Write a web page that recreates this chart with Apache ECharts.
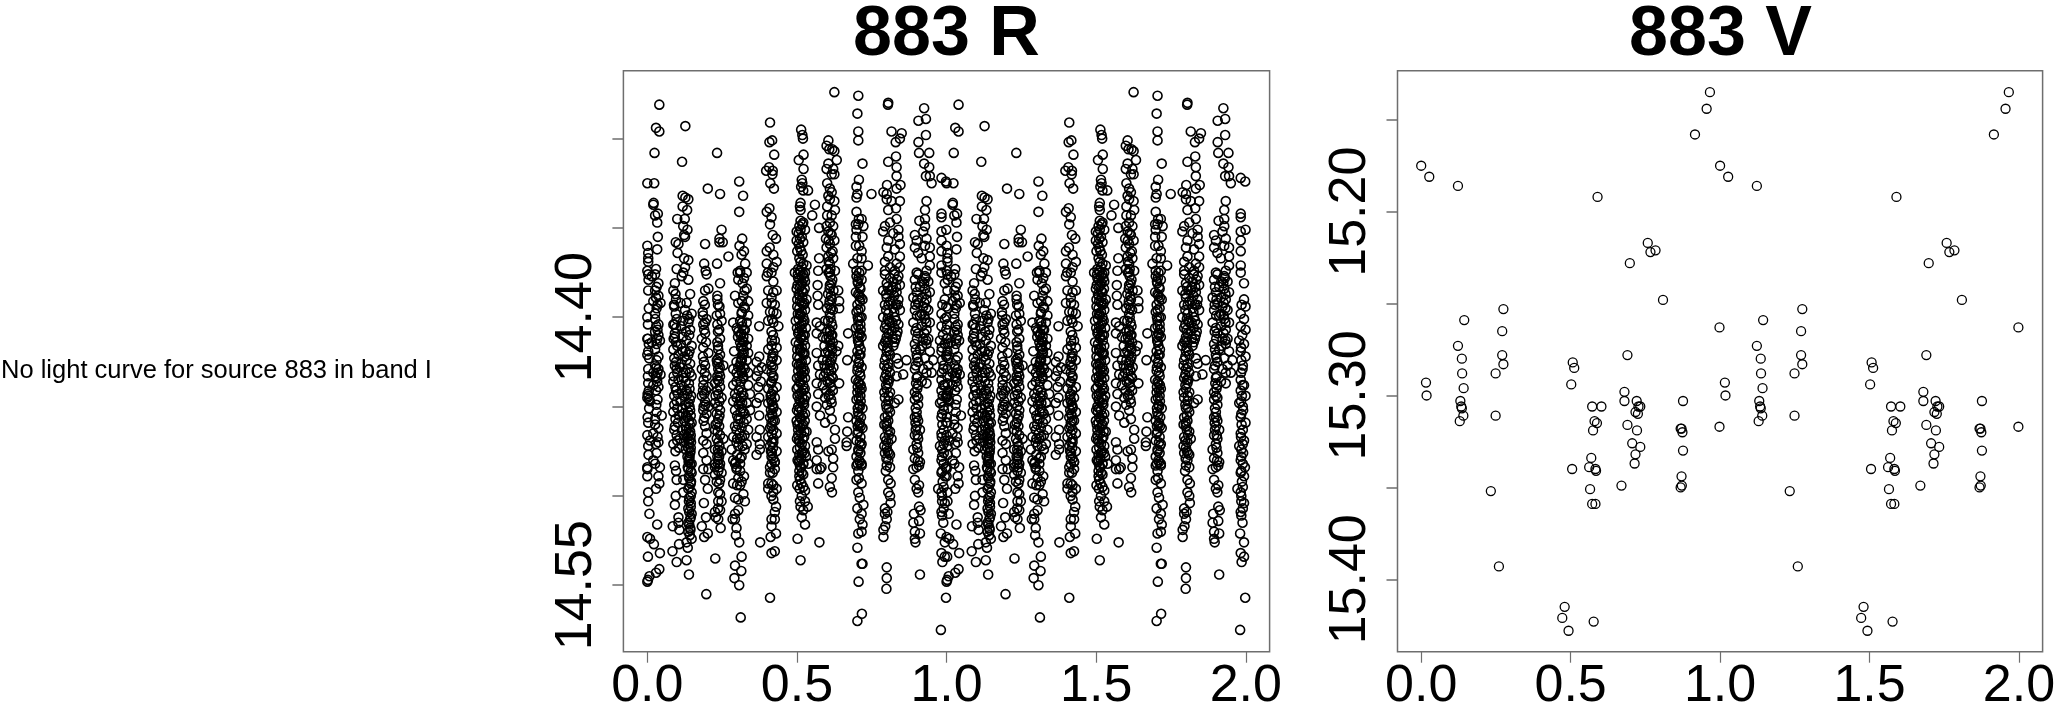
<!DOCTYPE html>
<html><head><meta charset="utf-8">
<style>html,body{margin:0;padding:0;background:#fff}#c{width:2057px;height:705px}</style>
<script src="https://cdn.jsdelivr.net/npm/echarts@6/dist/echarts.min.js"></script>
</head><body><div id="c"></div>
<script>
// Band R: phase, magnitude pairs, grouped by visit clump
const rClump0=[.040,14.281,.029,14.294,.040,14.296,.024,14.308,.000,14.325,.023,14.325,.021,14.336,.020,14.337,.035,14.342,.026,14.343,.033,14.347,.035,14.355,.033,14.362,.000,14.360,.003,14.364,.003,14.367,.003,14.369,.029,14.373,.000,14.374,.003,14.376,.026,14.376,.015,14.377,.037,14.381,.003,14.385,.026,14.385,.037,14.388,.020,14.391,.044,14.392,.031,14.395,.026,14.398,.000,14.400,.026,14.401,.037,14.404,.026,14.408,.037,14.410,.000,14.412,.015,14.414,.042,14.413,.031,14.415,.003,14.419,.000,14.421,.026,14.418,.037,14.422,.026,14.427,.037,14.429,.003,14.429,.020,14.431,.044,14.432,.003,14.437,.031,14.434,.020,14.438,.037,14.439,.003,14.444,.000,14.445,.009,14.447,.029,14.441,.031,14.453,.048,14.455,.026,14.457,.003,14.459,.026,14.460,.037,14.462,.000,14.466,.020,14.465,.009,14.469,.037,14.470,.003,14.472,.031,14.476,.020,14.480,.000,14.484,.000,14.485,.000,14.489,.026,14.482,.042,14.484,.037,14.489,.040,14.493,.029,14.496,.003,14.498,.003,14.503,.007,14.510,.033,14.516,.000,14.523,.009,14.524,.022,14.527,.042,14.532,.002,14.534,.040,14.541,.029,14.543,.007,14.545,.000,14.548,.002,14.547,.030,14.428,.034,14.431,.028,14.433,.033,14.436,.005,14.441,.001,14.443,.006,14.446,.002,14.412,.005,14.415,.030,14.405,.034,14.407,.004,14.379,.031,14.383,.029,14.389,.034,14.393,.005,14.395,.002,14.404,.033,14.412,.006,14.423,.031,14.424,.002,14.433,.034,14.446,.030,14.449,.006,14.451,.001,14.456,.034,14.467,.028,14.471,.004,14.477];
const rClump1=[.127,14.293,.116,14.313,.118,14.332,.127,14.333,.137,14.334,.118,14.338,.133,14.340,.100,14.345,.125,14.345,.120,14.349,.134,14.351,.123,14.354,.126,14.355,.095,14.358,.104,14.359,.101,14.364,.123,14.367,.137,14.368,.098,14.373,.126,14.372,.120,14.375,.092,14.381,.087,14.385,.096,14.390,.090,14.394,.098,14.401,.087,14.404,.092,14.411,.096,14.414,.087,14.418,.092,14.427,.098,14.429,.087,14.436,.094,14.439,.090,14.444,.098,14.447,.087,14.453,.092,14.461,.098,14.466,.087,14.471,.094,14.475,.137,14.379,.143,14.387,.131,14.392,.148,14.398,.137,14.403,.143,14.407,.131,14.413,.148,14.416,.137,14.421,.143,14.426,.135,14.429,.148,14.433,.139,14.437,.131,14.441,.146,14.444,.137,14.448,.143,14.452,.133,14.456,.148,14.459,.139,14.462,.143,14.464,.133,14.467,.146,14.470,.137,14.473,.143,14.476,.139,14.480,.148,14.482,.135,14.484,.115,14.377,.111,14.392,.120,14.402,.113,14.405,.118,14.411,.109,14.428,.120,14.431,.115,14.438,.111,14.447,.120,14.454,.116,14.463,.109,14.468,.122,14.470,.141,14.450,.145,14.455,.140,14.458,.145,14.466,.140,14.469,.145,14.473,.141,14.478,.143,14.482,.137,14.485,.148,14.487,.140,14.490,.145,14.493,.137,14.496,.148,14.498,.140,14.501,.145,14.504,.137,14.507,.148,14.510,.143,14.513,.137,14.515,.143,14.518,.137,14.520,.148,14.524,.092,14.483,.096,14.486,.098,14.491,.095,14.500,.092,14.505,.085,14.517,.104,14.512,.104,14.515,.107,14.519,.106,14.527,.084,14.531,.098,14.537,.135,14.529,.131,14.526,.131,14.536,.139,14.544,.120,14.498,.120,14.491];
const rDense1=[.092,14.409,.096,14.406,.088,14.412,.100,14.416,.104,14.421,.090,14.423,.096,14.425,.100,14.431,.088,14.433,.104,14.435,.096,14.441,.102,14.443,.090,14.449,.100,14.451,.106,14.455,.094,14.457,.102,14.459,.090,14.463,.100,14.469,.106,14.473,.112,14.415,.118,14.419,.124,14.422,.112,14.426,.122,14.434,.128,14.436,.116,14.441,.124,14.444,.128,14.449,.118,14.451,.124,14.458,.128,14.461,.122,14.466,.128,14.474,.134,14.478,.138,14.481,.142,14.460,.138,14.465,.144,14.468,.138,14.471,.144,14.475,.140,14.479,.145,14.486,.139,14.489,.146,14.492,.141,14.495,.145,14.500,.139,14.503,.145,14.506,.140,14.509,.145,14.512,.140,14.516,.144,14.519,.142,14.522,.094,14.387,.089,14.393,.095,14.398,.091,14.404,.126,14.396,.133,14.399,.140,14.401,.129,14.408,.140,14.410,.128,14.419,.141,14.419,.131,14.424,.142,14.431,.129,14.431,.141,14.440,.134,14.443,.142,14.446,.129,14.455,.136,14.453,.130,14.463];
const rClump2=[.233,14.308,.202,14.328,.243,14.331,.248,14.351,.241,14.356,.241,14.358,.252,14.358,.193,14.359,.271,14.366,.233,14.370,.190,14.370,.195,14.374,.198,14.376,.193,14.385,.204,14.384,.243,14.381,.234,14.388,.234,14.390,.187,14.391,.185,14.397,.243,14.398,.232,14.399,.198,14.401,.187,14.404,.234,14.404,.248,14.402,.193,14.409,.243,14.412,.182,14.412,.234,14.414,.187,14.417,.204,14.420,.237,14.418,.243,14.421,.232,14.424,.193,14.427,.254,14.427,.182,14.429,.237,14.429,.198,14.433,.243,14.433,.226,14.437,.187,14.438,.204,14.439,.243,14.439,.182,14.444,.237,14.443,.193,14.447,.248,14.445,.204,14.450,.226,14.448,.187,14.452,.243,14.452,.198,14.454,.237,14.457,.193,14.461,.198,14.465,.226,14.463,.243,14.466,.187,14.469,.198,14.471,.254,14.468,.237,14.470,.226,14.474,.187,14.476,.248,14.475,.198,14.480,.237,14.480,.226,14.484,.237,14.423,.234,14.426,.240,14.431,.235,14.435,.238,14.476,.234,14.478,.187,14.485,.204,14.485,.193,14.491,.202,14.496,.189,14.504,.196,14.512,.182,14.517,.202,14.521,.190,14.523,.227,14.535,.197,14.555,.226,14.482,.243,14.482,.237,14.486,.226,14.488,.248,14.487,.232,14.492,.243,14.491,.237,14.498,.243,14.499,.237,14.503,.248,14.503,.226,14.509,.243,14.508,.237,14.513,.245,14.518,.229,14.512,.190,14.407,.196,14.414,.186,14.422,.192,14.431,.188,14.435,.196,14.441,.190,14.443,.194,14.449,.188,14.450,.238,14.425,.242,14.428,.234,14.433,.240,14.436,.234,14.441,.241,14.447,.236,14.450,.241,14.455,.234,14.459,.240,14.461,.235,14.464,.241,14.472,.236,14.474,.240,14.478,.236,14.482,.241,14.484,.192,14.393,.186,14.399,.193,14.403,.189,14.425,.186,14.441,.191,14.456,.188,14.458,.236,14.393,.241,14.394,.236,14.408,.240,14.407,.236,14.416,.228,14.444,.232,14.454,.228,14.460,.232,14.468,.240,14.493,.236,14.507];
const rClump3=[.307,14.324,.320,14.332,.307,14.341,.317,14.356,.308,14.360,.323,14.363,.315,14.365,.327,14.370,.310,14.374,.302,14.375,.310,14.375,.332,14.375,.304,14.379,.332,14.384,.293,14.388,.321,14.388,.337,14.391,.304,14.392,.326,14.395,.315,14.398,.337,14.399,.287,14.403,.310,14.402,.332,14.403,.304,14.408,.326,14.407,.321,14.411,.337,14.412,.310,14.414,.290,14.419,.332,14.416,.321,14.418,.337,14.420,.315,14.423,.332,14.424,.310,14.427,.287,14.429,.326,14.429,.304,14.433,.321,14.434,.337,14.431,.287,14.438,.310,14.439,.337,14.438,.293,14.443,.321,14.444,.343,14.443,.287,14.447,.310,14.447,.332,14.448,.293,14.452,.321,14.453,.343,14.452,.304,14.457,.332,14.457,.293,14.461,.315,14.462,.337,14.463,.287,14.467,.310,14.468,.332,14.471,.282,14.474,.304,14.472,.287,14.480,.310,14.479,.298,14.484,.317,14.405,.312,14.410,.318,14.413,.313,14.417,.318,14.421,.312,14.425,.316,14.431,.312,14.436,.293,14.482,.310,14.482,.298,14.485,.323,14.489,.304,14.490,.287,14.493,.310,14.494,.293,14.501,.321,14.499,.304,14.502,.326,14.503,.304,14.508,.293,14.510,.285,14.513,.293,14.513,.298,14.518,.296,14.522,.307,14.526,.315,14.534,.293,14.539,.314,14.542,.291,14.546,.307,14.550,.312,14.568,.316,14.403,.322,14.407,.314,14.409,.322,14.414,.316,14.416,.322,14.420,.316,14.424,.322,14.428,.314,14.430,.320,14.433,.298,14.436,.305,14.441,.316,14.442,.298,14.445,.305,14.449,.316,14.451,.325,14.454,.300,14.455,.311,14.457,.322,14.459,.298,14.463,.308,14.465,.325,14.466,.298,14.470,.318,14.472,.325,14.474,.300,14.477,.315,14.478,.295,14.481,.323,14.378,.318,14.381,.325,14.385,.316,14.391,.323,14.394,.316,14.397,.299,14.406,.303,14.411,.298,14.425,.304,14.428,.298,14.431,.312,14.445,.317,14.448,.311,14.453,.303,14.460,.316,14.467,.300,14.468,.310,14.486,.300,14.494,.315,14.492];
const rClump4=[.410,14.291,.417,14.301,.408,14.302,.424,14.309,.407,14.316,.397,14.318,.419,14.318,.418,14.320,.411,14.325,.423,14.328,.408,14.339,.399,14.341,.415,14.344,.410,14.348,.419,14.354,.430,14.356,.409,14.361,.399,14.363,.421,14.365,.399,14.370,.432,14.369,.421,14.372,.403,14.375,.374,14.405,.374,14.422,.365,14.425,.382,14.428,.371,14.430,.365,14.433,.379,14.436,.371,14.439,.374,14.445,.365,14.448,.374,14.455,.376,14.463,.365,14.467,.376,14.471,.365,14.477,.376,14.474,.415,14.375,.399,14.377,.421,14.380,.404,14.385,.432,14.385,.415,14.389,.399,14.392,.426,14.393,.410,14.397,.432,14.398,.404,14.402,.421,14.403,.438,14.405,.415,14.408,.426,14.413,.415,14.416,.432,14.417,.404,14.418,.421,14.420,.432,14.424,.415,14.427,.399,14.429,.421,14.433,.415,14.436,.432,14.439,.404,14.440,.415,14.443,.426,14.445,.404,14.448,.421,14.450,.432,14.453,.410,14.456,.426,14.458,.415,14.461,.432,14.465,.404,14.467,.421,14.470,.410,14.472,.432,14.475,.415,14.478,.426,14.481,.410,14.484,.418,14.422,.414,14.446,.418,14.449,.413,14.452,.418,14.455,.426,14.481,.410,14.487,.426,14.485,.404,14.493,.415,14.493,.432,14.496,.404,14.496,.415,14.500,.421,14.502,.430,14.506,.426,14.509,.415,14.513,.426,14.513,.415,14.517,.412,14.523,.430,14.521,.377,14.526,.426,14.531,.415,14.532,.410,14.557,.419,14.423,.414,14.425,.420,14.428,.415,14.431,.420,14.434,.414,14.437,.420,14.441,.416,14.447,.421,14.451,.416,14.454,.420,14.458,.415,14.459,.421,14.463,.416,14.465,.421,14.468,.416,14.470,.420,14.473,.416,14.476,.421,14.479,.415,14.482,.421,14.386,.416,14.392,.421,14.397,.417,14.401,.420,14.410,.416,14.413,.412,14.444,.410,14.462,.413,14.475,.419,14.487,.421,14.494,.421,14.498];
const rClump5=[.514,14.295,.518,14.298,.520,14.300,.522,14.309,.506,14.312,.522,14.317,.516,14.323,.518,14.325,.514,14.327,.521,14.329,.537,14.329,.512,14.336,.510,14.338,.512,14.340,.512,14.346,.521,14.347,.508,14.349,.527,14.351,.499,14.352,.510,14.356,.499,14.357,.521,14.358,.510,14.361,.501,14.363,.519,14.365,.508,14.367,.521,14.370,.504,14.373,.527,14.375,.493,14.375,.510,14.374,.521,14.376,.504,14.378,.527,14.380,.514,14.382,.499,14.384,.521,14.386,.508,14.388,.532,14.390,.516,14.392,.501,14.394,.527,14.396,.510,14.398,.521,14.400,.496,14.402,.516,14.404,.530,14.406,.506,14.408,.521,14.410,.512,14.412,.496,14.414,.527,14.416,.510,14.418,.519,14.420,.501,14.422,.530,14.424,.512,14.426,.521,14.428,.504,14.430,.516,14.432,.527,14.434,.508,14.436,.521,14.438,.499,14.440,.514,14.442,.530,14.444,.508,14.446,.521,14.448,.504,14.450,.516,14.452,.527,14.454,.510,14.456,.499,14.458,.521,14.460,.512,14.462,.532,14.464,.504,14.466,.519,14.468,.510,14.470,.527,14.472,.501,14.474,.516,14.476,.530,14.478,.508,14.480,.521,14.482,.510,14.483,.521,14.482,.508,14.486,.521,14.488,.510,14.491,.501,14.494,.521,14.495,.527,14.497,.527,14.503,.512,14.506,.536,14.506,.521,14.508,.516,14.512,.527,14.516,.502,14.524,.512,14.536];
const rDense5=[.512,14.375,.516,14.377,.508,14.379,.518,14.381,.510,14.383,.516,14.385,.506,14.387,.518,14.389,.510,14.391,.522,14.393,.508,14.395,.516,14.397,.512,14.399,.506,14.401,.520,14.403,.510,14.405,.516,14.407,.504,14.409,.514,14.411,.522,14.413,.506,14.415,.516,14.417,.512,14.419,.524,14.421,.508,14.423,.516,14.425,.506,14.427,.514,14.429,.522,14.431,.508,14.433,.518,14.435,.512,14.437,.504,14.439,.522,14.441,.508,14.443,.518,14.445,.512,14.447,.524,14.449,.510,14.451,.506,14.453,.520,14.455,.514,14.457,.508,14.459,.518,14.461,.504,14.463,.514,14.465,.524,14.467,.506,14.469,.516,14.471,.510,14.473,.520,14.475,.508,14.477,.514,14.479,.506,14.481,.514,14.484,.516,14.487,.508,14.489,.515,14.493,.509,14.496,.516,14.500,.510,14.503,.518,14.348,.512,14.351,.506,14.353,.516,14.355,.506,14.359,.514,14.363,.512,14.369,.516,14.372,.503,14.376,.524,14.378,.502,14.382,.526,14.384,.501,14.390,.525,14.392,.503,14.398,.525,14.402,.500,14.406,.526,14.410,.501,14.418,.525,14.420,.500,14.426,.526,14.430,.500,14.434,.526,14.440,.502,14.444,.525,14.446,.500,14.452,.526,14.458,.502,14.460,.525,14.464,.500,14.468,.526,14.476,.502,14.480];
const rClump6=[.625,14.274,.605,14.301,.599,14.304,.608,14.306,.618,14.306,.625,14.307,.633,14.312,.605,14.314,.599,14.317,.621,14.317,.616,14.320,.625,14.320,.601,14.325,.610,14.328,.616,14.330,.605,14.332,.610,14.334,.625,14.335,.601,14.338,.627,14.340,.601,14.343,.616,14.343,.610,14.347,.599,14.349,.621,14.349,.605,14.352,.616,14.354,.597,14.356,.625,14.357,.610,14.359,.599,14.361,.619,14.363,.605,14.366,.621,14.367,.610,14.370,.599,14.373,.627,14.374,.610,14.375,.560,14.337,.551,14.343,.574,14.350,.574,14.367,.571,14.374,.532,14.371,.606,14.375,.618,14.379,.610,14.382,.622,14.385,.604,14.387,.616,14.390,.608,14.393,.620,14.396,.612,14.400,.604,14.402,.618,14.405,.610,14.408,.606,14.411,.620,14.414,.612,14.416,.604,14.419,.618,14.422,.610,14.425,.622,14.428,.606,14.430,.616,14.433,.610,14.437,.620,14.441,.606,14.444,.616,14.448,.610,14.452,.569,14.382,.569,14.388,.571,14.393,.566,14.403,.577,14.405,.566,14.409,.586,14.411,.566,14.420,.571,14.427,.577,14.432,.566,14.437,.571,14.443,.566,14.450,.577,14.455,.594,14.459,.616,14.457,.627,14.463,.627,14.468,.566,14.470,.571,14.474,.616,14.474,.605,14.475,.621,14.479,.566,14.480,.582,14.484,.638,14.385,.641,14.391,.641,14.395,.638,14.416,.632,14.419,.641,14.437,.566,14.485,.577,14.485,.571,14.493,.621,14.484,.616,14.490,.610,14.495,.617,14.498,.575,14.526,.538,14.482,.612,14.377,.615,14.381,.609,14.384,.614,14.388,.609,14.391,.614,14.395,.610,14.398,.615,14.403,.610,14.407,.615,14.410,.610,14.413,.615,14.417,.609,14.421,.615,14.424,.610,14.427,.615,14.430,.610,14.435,.614,14.439,.610,14.443,.614,14.446,.598,14.412,.592,14.416,.586,14.424,.592,14.427,.596,14.431,.586,14.438,.598,14.441,.600,14.395,.594,14.402,.601,14.408,.596,14.420,.601,14.424,.590,14.433,.602,14.436,.594,14.445,.600,14.449,.612,14.353,.606,14.357,.614,14.364,.606,14.369,.612,14.373,.618,14.410,.618,14.418,.620,14.434];
const rClump7=[.705,14.276,.702,14.286,.705,14.296,.705,14.301,.719,14.314,.707,14.323,.699,14.327,.702,14.331,.699,14.333,.749,14.331,.699,14.341,.716,14.345,.707,14.345,.697,14.348,.705,14.348,.722,14.349,.699,14.351,.719,14.355,.697,14.355,.708,14.360,.697,14.360,.716,14.363,.702,14.367,.716,14.367,.688,14.370,.737,14.371,.699,14.374,.716,14.374,.671,14.409,.668,14.424,.671,14.456,.668,14.464,.666,14.470,.666,14.472,.708,14.375,.699,14.377,.716,14.379,.704,14.381,.712,14.384,.697,14.386,.708,14.388,.719,14.390,.702,14.393,.712,14.395,.699,14.397,.716,14.400,.705,14.402,.712,14.404,.697,14.406,.708,14.409,.716,14.411,.704,14.413,.708,14.416,.702,14.419,.712,14.421,.699,14.423,.708,14.426,.716,14.428,.702,14.430,.712,14.433,.697,14.435,.708,14.437,.716,14.440,.702,14.442,.712,14.444,.699,14.446,.708,14.449,.719,14.451,.704,14.453,.714,14.456,.699,14.458,.708,14.460,.719,14.462,.702,14.465,.712,14.467,.699,14.469,.716,14.471,.705,14.474,.712,14.476,.699,14.478,.708,14.480,.716,14.482,.699,14.483,.716,14.483,.705,14.486,.699,14.491,.716,14.493,.705,14.498,.710,14.501,.722,14.505,.702,14.507,.716,14.510,.710,14.513,.719,14.516,.716,14.520,.705,14.521,.702,14.529,.716,14.538,.719,14.538,.706,14.548,.717,14.566,.702,14.570,.706,14.378,.710,14.383,.705,14.387,.710,14.391,.705,14.396,.710,14.400,.705,14.405,.710,14.410,.706,14.414,.708,14.421,.706,14.425,.710,14.431,.705,14.436,.710,14.441,.706,14.445,.710,14.450,.706,14.455,.710,14.459,.705,14.464,.710,14.470,.706,14.475,.710,14.481,.707,14.490,.703,14.380,.713,14.389,.703,14.400,.713,14.407,.703,14.411,.713,14.418,.703,14.428,.713,14.438,.703,14.439,.713,14.447,.703,14.451,.713,14.461,.703,14.461,.713,14.472,.703,14.482];
const rClump8=[.805,14.280,.804,14.281,.816,14.296,.850,14.297,.844,14.300,.830,14.302,.831,14.310,.805,14.313,.833,14.316,.833,14.321,.846,14.326,.801,14.326,.833,14.328,.789,14.330,.800,14.331,.800,14.334,.816,14.335,.844,14.335,.805,14.340,.831,14.339,.833,14.345,.811,14.347,.794,14.349,.839,14.351,.788,14.352,.822,14.353,.839,14.355,.805,14.357,.844,14.359,.800,14.361,.827,14.362,.805,14.366,.844,14.366,.794,14.369,.833,14.370,.811,14.372,.844,14.372,.794,14.374,.827,14.374,.794,14.376,.811,14.378,.839,14.377,.800,14.381,.822,14.380,.844,14.382,.788,14.385,.816,14.385,.833,14.386,.800,14.389,.811,14.391,.839,14.390,.794,14.393,.822,14.395,.844,14.396,.805,14.398,.788,14.400,.827,14.400,.811,14.403,.839,14.404,.794,14.406,.816,14.408,.800,14.411,.833,14.410,.805,14.414,.788,14.416,.822,14.416,.800,14.419,.811,14.421,.794,14.424,.805,14.426,.833,14.423,.866,14.424,.839,14.426,.800,14.429,.811,14.431,.855,14.432,.833,14.433,.794,14.434,.805,14.437,.800,14.440,.811,14.442,.794,14.445,.839,14.446,.805,14.447,.827,14.448,.800,14.451,.811,14.453,.794,14.456,.805,14.458,.800,14.461,.811,14.464,.794,14.467,.816,14.468,.805,14.470,.800,14.473,.794,14.476,.811,14.477,.805,14.480,.800,14.483,.797,14.486,.811,14.484,.805,14.491,.813,14.493,.805,14.498,.811,14.500,.813,14.504,.794,14.507,.802,14.509,.794,14.510,.800,14.513,.795,14.517,.789,14.519,.789,14.523,.800,14.540,.800,14.546,.799,14.552,.803,14.383,.798,14.387,.806,14.393,.798,14.396,.803,14.401,.798,14.404,.806,14.409,.798,14.413,.802,14.417,.798,14.422,.806,14.428,.798,14.432,.803,14.435,.798,14.438,.806,14.444,.798,14.449,.803,14.455,.799,14.459,.803,14.463,.798,14.469,.803,14.475,.799,14.479,.826,14.376,.831,14.383,.825,14.388,.830,14.393,.825,14.397,.831,14.402,.826,14.406,.830,14.412,.826,14.414,.835,14.379,.837,14.393,.836,14.408,.808,14.385,.808,14.402,.802,14.407,.794,14.414,.808,14.419,.792,14.427,.808,14.435,.792,14.442,.807,14.451,.792,14.460,.807,14.466,.792,14.472,.807,14.476,.820,14.383,.820,14.391,.819,14.403,.820,14.412];
const rClump9=[.925,14.283,.906,14.290,.931,14.289,.931,14.298,.906,14.302,.908,14.308,.942,14.308,.925,14.314,.942,14.316,.931,14.321,.944,14.321,.950,14.325,.933,14.335,.928,14.340,.909,14.346,.928,14.345,.928,14.349,.922,14.352,.894,14.354,.933,14.356,.900,14.357,.944,14.361,.894,14.361,.905,14.364,.928,14.360,.944,14.366,.917,14.367,.944,14.371,.900,14.375,.933,14.374,.905,14.376,.928,14.377,.894,14.379,.939,14.380,.911,14.383,.928,14.384,.900,14.386,.944,14.386,.889,14.389,.933,14.390,.905,14.392,.922,14.394,.894,14.396,.939,14.396,.911,14.399,.928,14.401,.889,14.403,.944,14.403,.900,14.406,.933,14.407,.905,14.409,.922,14.412,.939,14.412,.894,14.415,.933,14.415,.911,14.418,.944,14.419,.900,14.421,.928,14.423,.955,14.424,.905,14.425,.939,14.427,.894,14.429,.922,14.429,.933,14.431,.950,14.431,.900,14.434,.917,14.436,.905,14.438,.933,14.437,.894,14.442,.900,14.444,.894,14.446,.905,14.449,.900,14.453,.894,14.456,.905,14.458,.900,14.461,.911,14.463,.894,14.466,.905,14.468,.900,14.471,.889,14.474,.905,14.476,.894,14.479,.911,14.481,.900,14.484,.889,14.485,.908,14.483,.894,14.491,.908,14.494,.900,14.496,.905,14.498,.908,14.506,.891,14.510,.913,14.508,.908,14.514,.889,14.515,.911,14.521,.894,14.520,.894,14.524,.896,14.526,.911,14.544,.930,14.378,.925,14.381,.932,14.387,.926,14.392,.932,14.395,.926,14.399,.932,14.403,.926,14.409,.932,14.413,.897,14.383,.902,14.390,.896,14.393,.901,14.399,.896,14.408,.901,14.412,.897,14.418,.902,14.423,.898,14.437,.902,14.440,.897,14.451,.901,14.456,.897,14.463,.902,14.473,.918,14.380,.917,14.389,.917,14.398,.918,14.405,.918,14.416,.897,14.427,.903,14.433,.905,14.445,.896,14.459,.903,14.466,.904,14.480];
const rClump10=[.983,14.322,.998,14.324,.983,14.342,.983,14.344,.983,14.352,.999,14.351,.983,14.357,.983,14.363,.983,14.371,.983,14.375,.994,14.381,.994,14.390,.999,14.394,.983,14.398,.994,14.401,.983,14.405,.999,14.407,.978,14.413,.994,14.415,.983,14.419,.999,14.422,.989,14.429,.983,14.435,.994,14.438,.983,14.441,.999,14.444,.978,14.448,.991,14.452,.983,14.456,.999,14.459,.983,14.465,.994,14.469,.978,14.472,.991,14.476,.983,14.480,.997,14.484,.983,14.487,.972,14.496,.994,14.489,.983,14.498,.994,14.504,.983,14.509,.989,14.515,.981,14.521,.994,14.526,.983,14.532,.994,14.534,.986,14.537,.998,14.557,.981,14.575,.986,14.393,.985,14.424,.987,14.444,.986,14.460,.985,14.478,.987,14.492,.985,14.503,.988,14.410,.984,14.417,.990,14.427,.984,14.431,.989,14.438,.984,14.447,.990,14.450,.985,14.454,.990,14.463,.984,14.467,.990,14.471,.985,14.474,.990,14.482,.985,14.486,.990,14.495,.985,14.500,.990,14.507,.985,14.511];
// Band V: phase, magnitude pairs
const vPoints=[.000,15.175,.027,15.181,.123,15.186,.144,15.259,.275,15.253,.271,15.265,.123,15.273,.271,15.278,.136,15.280,.590,15.192,.698,15.228,.758,15.217,.767,15.222,.784,15.221,.809,15.248,.507,15.282,.690,15.278,.916,15.158,.955,15.144,.966,15.135,.998,15.263,.137,15.288,.142,15.296,.275,15.283,.249,15.288,.016,15.293,.018,15.300,.131,15.303,.134,15.306,.136,15.307,.141,15.311,.129,15.314,.249,15.311,.233,15.352,.260,15.393,.512,15.285,.502,15.294,.505,15.340,.572,15.306,.603,15.306,.580,15.314,.588,15.315,.575,15.319,.569,15.334,.562,15.339,.583,15.340,.585,15.341,.565,15.351,.572,15.359,.583,15.359,.480,15.415,.472,15.421,.493,15.428,.577,15.423,.680,15.298,.680,15.303,.721,15.303,.733,15.306,.727,15.306,.717,15.309,.725,15.310,.690,15.316,.722,15.319,.706,15.326,.733,15.328,.717,15.332,.714,15.337,.670,15.349,.876,15.303,.868,15.318,.871,15.318,.874,15.320,.876,15.330,.871,15.344,.872,15.349,.868,15.350,.998,15.317];
const xTicks=[0,0.5,1,1.5,2];
const rTicks=[14.30,14.35,14.40,14.45,14.50,14.55];
const rLabels=[14.40,14.55];
const vTicks=[15.15,15.20,15.25,15.30,15.35,15.40];
const vLabels=[15.20,15.30,15.40];
const titles=['883 R','883 V'];
const note='No light curve for source 883 in band I';

// The plot repeats each phase over 0..1 and 1..2
function folded(flat){const out=[];for(let i=0;i<flat.length;i+=2){out.push([flat[i],flat[i+1]]);out.push([flat[i]+1,flat[i+1]]);}return out;}
const rFlat=[].concat(rClump0,rClump1,rDense1,rClump2,rClump3,rClump4,rClump5,rDense5,rClump6,rClump7,rClump8,rClump9,rClump10);
const FONT='"Liberation Sans",Arial,Helvetica,sans-serif';
const gray='#6e6e6e';
function xAxis(i,min,max){return{gridIndex:i,type:'value',min,max,
 axisLine:{show:false,onZero:false},splitLine:{show:false},
 axisTick:{show:true,customValues:xTicks,length:11,lineStyle:{color:gray,width:1.2}},
 axisLabel:{show:true,customValues:xTicks,margin:9,fontSize:52,color:'#000',fontFamily:FONT,formatter:v=>Number(v).toFixed(1)}};}
function yAxis(i,min,max,ticks,labels,m){return{gridIndex:i,type:'value',inverse:true,min,max,
 axisLine:{show:false,onZero:false},splitLine:{show:false},
 axisTick:{show:true,customValues:ticks,length:11,lineStyle:{color:gray,width:1.5}},
 axisLabel:{show:true,customValues:labels,rotate:90,margin:m,fontSize:52,color:'#000',fontFamily:FONT,formatter:v=>Number(v).toFixed(2)}};}
function scatter(i,data,w){return{type:'scatter',xAxisIndex:i,yAxisIndex:i,data,symbol:'circle',symbolSize:9,animation:false,
 itemStyle:{color:'rgba(0,0,0,0)',borderColor:'#000',borderWidth:w,opacity:1},silent:true};}
const chart=echarts.init(document.getElementById('c'),null,{renderer:'canvas'});
chart.setOption({animation:false,backgroundColor:'#fff',
 title:[
  {text:titles[0],left:946.5,top:1,padding:0,textAlign:'center',textStyle:{fontFamily:FONT,fontSize:70,fontWeight:'bold',color:'#000'}},
  {text:titles[1],left:1720.5,top:1,padding:0,textAlign:'center',textStyle:{fontFamily:FONT,fontSize:70,fontWeight:'bold',color:'#000'}},
  {text:note,left:1,top:358,padding:0,textStyle:{fontFamily:FONT,fontSize:25.5,fontWeight:'normal',color:'#000'}}
 ],
 grid:[
  {left:623.4,top:70.7,width:646.2,height:581,outerBoundsMode:'none',show:true,borderColor:gray,borderWidth:1.5,backgroundColor:'transparent'},
  {left:1397.5,top:70.7,width:645.1,height:581,outerBoundsMode:'none',show:true,borderColor:gray,borderWidth:1.5,backgroundColor:'transparent'}
 ],
 xAxis:[xAxis(0,-0.08,2.0795),xAxis(1,-0.0793,2.079)],
 yAxis:[yAxis(0,14.262,14.5872,rTicks,rLabels,21),yAxis(1,15.1233,15.4394,vTicks,vLabels,21)],
 series:[scatter(0,folded(rFlat),1.6),scatter(1,folded(vPoints),1.3)]
});
</script></body></html>
